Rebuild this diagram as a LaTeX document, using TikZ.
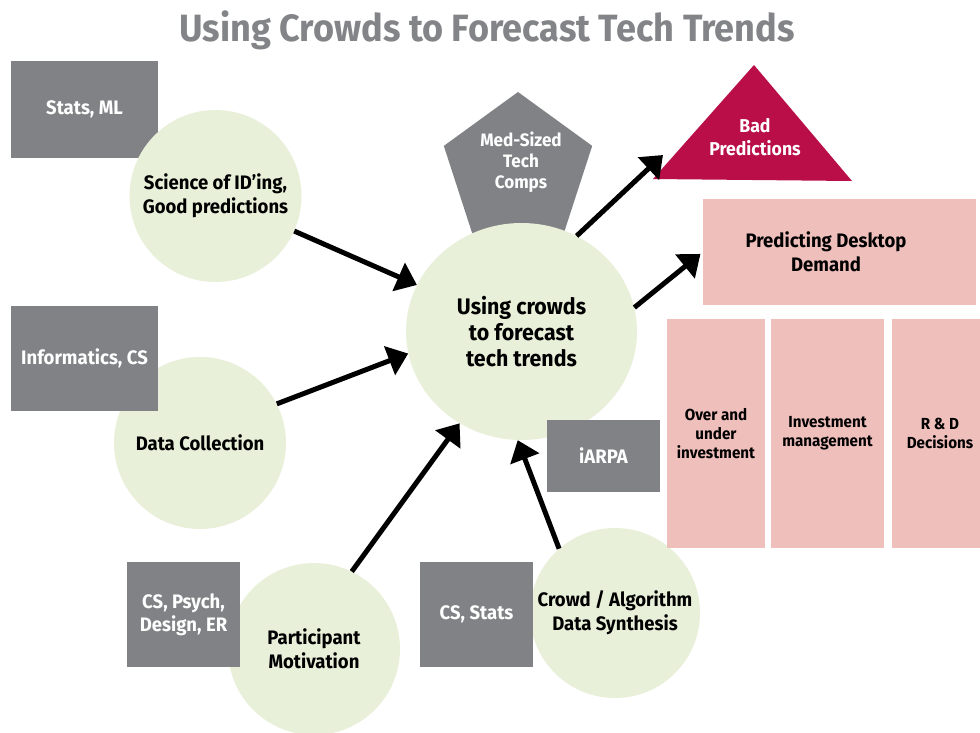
\documentclass[tikz,border=0pt]{standalone}
\usepackage{fontspec}
\setmainfont{Fira Sans}[FakeStretch=0.95]
\usetikzlibrary{shapes.geometric,arrows.meta}
\definecolor{boxgray}{HTML}{808285}
\definecolor{titlegray}{HTML}{838487}
\definecolor{bubgreen}{HTML}{E9F0DA}
\definecolor{pinkfill}{HTML}{EFBFBC}
\definecolor{crimson}{HTML}{BA0E48}
\begin{document}
\begin{tikzpicture}[x=1pt,y=-1pt,
  txt/.style={font=\bfseries\fontsize{19.5}{24}\selectfont,align=center,inner sep=0pt},
  smalltxt/.style={font=\bfseries\fontsize{16}{19}\selectfont,align=center,inner sep=0pt},
  graybox/.style={rectangle,fill=boxgray,text=white,inner sep=0pt,txt},
  bubble/.style={circle,fill=bubgreen,inner sep=0pt,minimum size=172pt,txt},
  pinkbox/.style={rectangle,fill=pinkfill,inner sep=0pt},
  arr/.style={line width=5pt,-{Triangle[length=20pt,width=30pt]}},
]
\clip (0,0) rectangle (980,732);
\useasboundingbox (0,0) rectangle (980,732);
\fill[white] (0,0) rectangle (980,732);

% title
\node[anchor=base,text=titlegray,font=\bfseries\fontsize{38}{40}\selectfont,inner sep=0pt] (title) at (487,41) {Using Crowds to Forecast Tech Trends};

% pentagon behind central bubble
\node[regular polygon,regular polygon sides=5,minimum size=156pt,fill=boxgray,inner sep=0pt] (med) at (518,170) {};
\node[txt,text=white,font=\bfseries\fontsize{18}{21}\selectfont] (medtxt) at (521,162) {Med-Sized\\Tech\\Comps};

% central
\node[ellipse,fill=bubgreen,minimum width=231pt,minimum height=217pt,inner sep=0pt,txt,font=\bfseries\fontsize{22.5}{26}\selectfont] (central) at (521.5,331.5) {Using crowds\\to forecast\\tech trends};

% science
\node[graybox,minimum width=147pt,minimum height=97pt] (stats) at (84.5,109.5) {Stats, ML};
\node[bubble] (sci) at (215.5,196) {Science of ID’ing,\\Good predictions};

% data collection
\node[bubble] (dc) at (200,443) {Data Collection};
\node[graybox,minimum width=147pt,minimum height=105pt] (info) at (84.5,358.5) {Informatics, CS};

% participant
\node[bubble] (pm) at (314,649) {Participant\\Motivation};
\node[graybox,minimum width=113pt,minimum height=105pt,font=\bfseries\fontsize{19.5}{23}\selectfont] (csp) at (183.5,614.5) {CS, Psych,\\Design, ER};

% crowd
\node[bubble,minimum size=170pt] (cr) at (615,613) {Crowd / Algorithm\\Data Synthesis};
\node[graybox,minimum width=113pt,minimum height=105pt] (css) at (476.5,614.5) {CS, Stats};

% iARPA
\node[graybox,minimum width=113pt,minimum height=72pt] (iarpa) at (603.5,456) {iARPA};

% bad predictions
\fill[crimson] (754,65) -- (852,181) -- (653,179) -- cycle;
\node[txt,text=white,font=\bfseries\fontsize{18.6}{23}\selectfont] (bad) at (755,137) {Bad\\Predictions};
\coordinate (badin) at (663,155);

% pink boxes
\node[pinkbox,minimum width=273pt,minimum height=106pt] (pdd) at (839.5,252) {};
\node[txt] (pddtxt) at (826,252) {Predicting Desktop\\Demand};
\node[pinkbox,minimum width=98pt,minimum height=229pt,smalltxt] (over) at (716,433.5) {Over and\\under\\investment};
\node[pinkbox,minimum width=113pt,minimum height=229pt,smalltxt] (inv) at (827.5,433.5) {Investment\\management};
\node[pinkbox,minimum width=96pt,minimum height=229pt,smalltxt] (rd) at (940,433.5) {R \& D\\Decisions};

% arrows
\draw[arr] (sci.-24) -- (central.156);
\draw[arr] (dc.27) -- (central.191);
\draw[arr] (pm.64) -- (central.-124);
\draw[arr] (cr.131) -- (central.-92);
\draw[arr] (central.60) -- (badin);
\draw[arr,shorten >=3pt] (central.12) -- (pdd.west);
\end{tikzpicture}
\end{document}
